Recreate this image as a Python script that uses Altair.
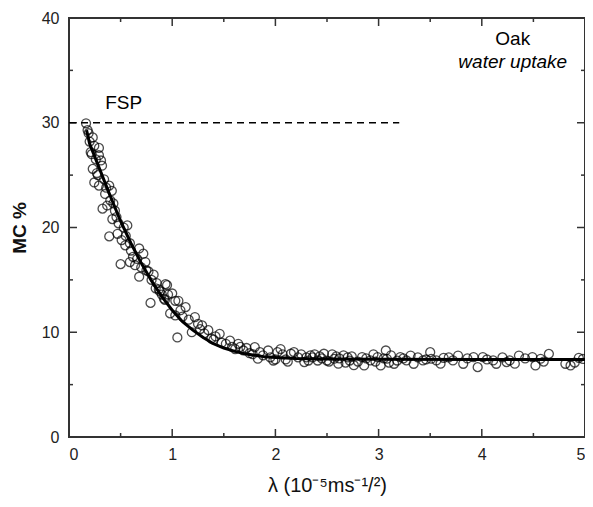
import altair as alt
import pandas as pd

# ---- data ----
pt_x = [0.165, 0.19, 0.20, 0.23, 0.245, 0.29, 0.21, 0.29, 0.31, 0.23, 0.32, 0.27,
        0.245, 0.29, 0.39, 0.415, 0.35, 0.325, 0.37, 0.43, 0.445, 0.42, 0.48, 0.565,
        0.39, 0.47, 0.51, 0.545, 0.59, 0.68, 0.50, 0.59, 0.64, 0.72, 0.74, 0.62,
        0.68, 0.77, 0.82, 0.85, 0.79, 0.95, 0.96, 0.90, 1.03, 0.98, 0.87, 0.935,
        1.00, 0.92, 1.06, 1.13, 1.03, 1.22, 1.29, 1.05, 1.19, 1.35, 1.46, 1.38,
        1.25, 1.42, 1.56, 1.64, 1.69, 1.61, 1.80, 1.75, 1.83, 1.93, 2.02, 2.05,
        1.98, 2.15, 2.18, 2.28, 2.34, 2.41, 2.47, 2.57, 2.61, 2.66, 2.72, 2.76,
        1.52, 1.72, 1.88, 2.10, 2.22, 2.38, 2.52, 2.70,
        2.84, 2.86, 2.92, 2.99, 3.02, 3.07, 3.08, 3.15, 3.21, 3.27, 3.31, 3.34,
        3.43, 3.50, 3.51, 3.56, 3.63, 3.72, 3.77, 3.82, 3.92, 3.96, 4.01, 4.11,
        4.14, 4.24, 4.27, 4.36, 4.49, 4.52, 4.57, 4.65, 4.81, 4.86, 4.94,
        2.80, 2.95, 3.05, 3.12, 3.18, 3.38, 3.46, 3.60, 3.68, 3.86, 4.05, 4.20,
        4.32, 4.42, 4.60, 4.90, 4.98, 2.45, 2.30, 2.55, 2.62,
        0.18, 0.22, 0.26, 0.28, 0.34, 0.36, 0.40, 0.46, 0.53, 0.55, 0.60, 0.66,
        0.70, 0.75, 0.80, 0.84, 0.88, 0.93, 1.08, 1.10, 1.16, 1.27, 1.31, 1.40,
        1.48, 1.58, 1.66, 1.78, 1.85, 1.95, 2.00, 2.07, 2.12, 2.25, 2.32, 2.36,
        2.43, 2.50, 2.59, 2.68, 2.74, 2.88, 2.97, 3.10, 3.24]
pt_y = [29.95, 29.0, 28.2, 28.6, 27.8, 27.6, 27.2, 26.9, 26.4, 25.6, 25.9, 25.2,
        24.3, 24.0, 24.0, 23.5, 23.2, 21.8, 22.1, 22.3, 21.6, 20.8, 20.4, 20.2,
        19.15, 19.4, 18.8, 18.3, 18.5, 18.0, 16.5, 16.7, 16.4, 17.5, 16.7, 17.2,
        15.3, 15.8, 15.5, 14.7, 12.8, 14.5, 13.6, 13.6, 13.0, 11.8, 14.1, 14.6,
        13.7, 13.2, 13.0, 12.4, 11.6, 11.45, 10.65, 9.5, 10.0, 10.2, 9.85, 9.4,
        10.8, 9.6, 9.2, 8.9, 8.26, 8.4, 8.58, 8.0, 7.47, 8.26, 8.1, 8.4,
        7.3, 7.95, 8.1, 7.15, 7.8, 7.3, 7.95, 7.47, 7.0, 7.8, 7.3, 6.85,
        8.9, 8.5, 7.8, 7.4, 7.6, 7.9, 7.2, 7.6,
        7.63, 6.83, 7.31, 7.63, 6.83, 8.26, 7.47, 6.99, 7.63, 7.31, 7.78, 6.99,
        7.31, 8.1, 7.47, 7.31, 7.56, 7.31, 7.78, 6.99, 7.63, 6.67, 7.63, 7.31,
        6.99, 7.15, 7.31, 7.78, 7.63, 6.83, 7.47, 7.94, 6.99, 6.83, 7.56,
        7.2, 7.9, 7.5, 7.8, 7.3, 7.6, 7.4, 7.0, 7.6, 7.5, 7.4, 7.6,
        7.0, 7.5, 7.2, 7.1, 7.45, 7.5, 7.6, 7.9, 7.5,
        29.3, 27.0, 26.5, 25.0, 24.6, 23.8, 22.6, 21.0, 20.0, 19.2, 17.8, 17.0,
        16.2, 15.9, 15.0, 14.2, 13.9, 13.1, 12.1, 11.5, 11.2, 10.3, 9.9, 9.3,
        9.0, 8.6, 8.6, 7.9, 8.1, 7.6, 7.4, 7.9, 7.2, 7.9, 7.3, 7.6,
        7.7, 7.3, 7.7, 7.1, 7.7, 7.5, 7.2, 7.1, 7.5]

fit_x = [0.17, 0.2, 0.3, 0.4, 0.5, 0.6, 0.7, 0.8, 0.9, 1.0, 1.1, 1.2, 1.3, 1.4,
         1.5, 1.6, 1.7, 1.8, 1.9, 2.0, 2.2, 2.5, 3.0, 4.0, 5.0]
fit_y = [29.3, 28.0, 25.5, 23.0, 20.6, 18.5, 16.6, 14.9, 13.4, 12.1, 11.0, 10.2,
         9.5, 8.9, 8.5, 8.2, 7.95, 7.8, 7.65, 7.58, 7.5, 7.45, 7.42, 7.4, 7.4]

fsp_x = [0.0, 3.2]
fsp_y = [30, 30]

x_major = [0, 1, 2, 3, 4, 5]
x_minor = [0.5, 1.5, 2.5, 3.5, 4.5]
y_major = [0, 10, 20, 30, 40]
y_minor = [5, 15, 25, 35]

labels_txt = ["FSP", "Oak", "water uptake"]
labels_x = [0.53, 4.30, 4.30]
labels_y = [31.9, 38.0, 35.8]
labels_style = ["normal", "normal", "italic"]

FONT = "Liberation Sans"
W, H = 516, 419
MAJ, MIN = 8, 4

xs = alt.Scale(domain=[0, 5], nice=False, zero=False)
ys = alt.Scale(domain=[0, 40], nice=False, zero=False)

pts_df = pd.DataFrame({"lam": pt_x, "mc": pt_y})
fit_df = pd.DataFrame({"lam": fit_x, "mc": fit_y})
fsp_df = pd.DataFrame({"lam": fsp_x, "mc": fsp_y})

points = alt.Chart(pts_df).mark_point(
    shape="circle", filled=False, size=80, color="black", strokeWidth=1.3
).encode(
    x=alt.X("lam:Q", scale=xs, title="λ (10⁻⁵ms⁻¹/²)",
            axis=alt.Axis(orient="bottom", values=x_major, ticks=False, domain=False,
                          grid=False, labelPadding=9, format="d",
                          titlePadding=13, titleFontSize=20)),
    y=alt.Y("mc:Q", scale=ys, title="MC %",
            axis=alt.Axis(orient="left", values=y_major, ticks=False, domain=False,
                          grid=False, labelPadding=10, format="d",
                          titlePadding=12, titleFontSize=19, titleFontWeight="bold")),
)

def xticks(vals, y0, y1):
    df = pd.DataFrame({"v": vals})
    return alt.Chart(df).mark_rule(color="#333", strokeWidth=1.5).encode(
        x=alt.X("v:Q", scale=xs, axis=None), y=alt.value(y0), y2=alt.value(y1))

def yticks(vals, x0, x1):
    df = pd.DataFrame({"v": vals})
    return alt.Chart(df).mark_rule(color="#333", strokeWidth=1.5).encode(
        y=alt.Y("v:Q", scale=ys, axis=None), x=alt.value(x0), x2=alt.value(x1))

tick_layers = [
    xticks(x_major, H, H - MAJ), xticks(x_minor, H, H - MIN),
    xticks(x_major, 0, MAJ), xticks(x_minor, 0, MIN),
    yticks(y_major, 0, MAJ), yticks(y_minor, 0, MIN),
    yticks(y_major, W, W - MAJ), yticks(y_minor, W, W - MIN),
]

fit = alt.Chart(fit_df).mark_line(color="black", strokeWidth=3).encode(
    x=alt.X("lam:Q", scale=xs, axis=None),
    y=alt.Y("mc:Q", scale=ys, axis=None),
)

fsp = alt.Chart(fsp_df).mark_line(color="black", strokeWidth=1.5, strokeDash=[7, 5]).encode(
    x=alt.X("lam:Q", scale=xs, axis=None),
    y=alt.Y("mc:Q", scale=ys, axis=None),
)

lab_df = pd.DataFrame({"t": labels_txt, "lam": labels_x, "mc": labels_y, "it": labels_style})

def text_layer(style):
    return alt.Chart(lab_df[lab_df.it == style]).mark_text(
        font=FONT, fontSize=19, fontStyle=style, color="black", align="center", baseline="middle"
    ).encode(
        x=alt.X("lam:Q", scale=xs, axis=None),
        y=alt.Y("mc:Q", scale=ys, axis=None),
        text="t:N",
    )

chart = alt.layer(points, *tick_layers, fsp, fit, text_layer("normal"), text_layer("italic")).resolve_scale(
    x="independent", y="independent"
).properties(
    width=W, height=H,
    autosize=alt.AutoSizeParams(type="none"),
    padding={"left": 61, "top": 10, "right": 0, "bottom": 60},
).configure_view(
    stroke="#333", strokeWidth=2
).configure_axis(
    labelFont=FONT, titleFont=FONT, labelFontSize=16, labelColor="#222",
    titleColor="#111", titleFontWeight="normal"
)

chart.save("out.html", embed_options={"renderer": "svg", "actions": False})
